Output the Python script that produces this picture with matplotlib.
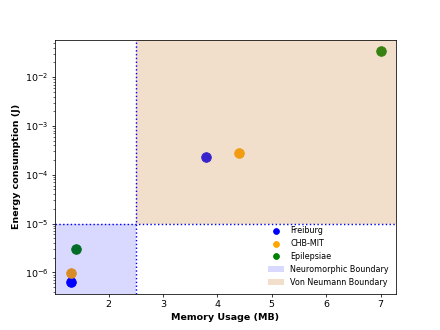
import matplotlib
matplotlib.use("Agg")
import matplotlib.pyplot as plt

datasets = ["Freiburg", "CHB-MIT", "Epilepsiae"]
colors = ["blue", "orange", "green"]

# neuromorphic (left) and von neumann (right) results
memory_neuro = [1.3, 1.3, 1.4]
energy_neuro = [6.3e-7, 9.5e-7, 3.0e-6]
memory_vn = [3.8, 4.4, 7.0]
energy_vn = [2.3e-4, 2.8e-4, 3.4e-2]

mem_boundary = 2.5
energy_boundary = 1e-5

fig, ax = plt.subplots(figsize=(6.4, 4.8))

for i in range(len(datasets)):
    ax.scatter([memory_neuro[i], memory_vn[i]], [energy_neuro[i], energy_vn[i]],
               color=colors[i], s=100, label=datasets[i])

ax.set_yscale("log")
xlim = ax.get_xlim()
ylim = ax.get_ylim()

ax.fill_between([xlim[0], mem_boundary], ylim[0], energy_boundary,
                color="blue", alpha=0.15, linewidth=0, label="Neuromorphic Boundary")
ax.fill_between([mem_boundary, xlim[1]], energy_boundary, ylim[1],
                color="peru", alpha=0.27, linewidth=0, label="Von Neumann Boundary")

ax.axvline(mem_boundary, color="blue", linestyle=":", linewidth=1.5)
ax.axhline(energy_boundary, color="blue", linestyle=":", linewidth=1.5)

ax.set_xlim(xlim)
ax.set_ylim(ylim)

ax.set_xlabel("Memory Usage (MB)", fontweight="bold")
ax.set_ylabel("Energy consumption (J)", fontweight="bold")
ax.legend(loc="lower right", frameon=False, fontsize="small", markerscale=0.6)

plt.savefig("out.png", dpi=68.75)
plt.close()
